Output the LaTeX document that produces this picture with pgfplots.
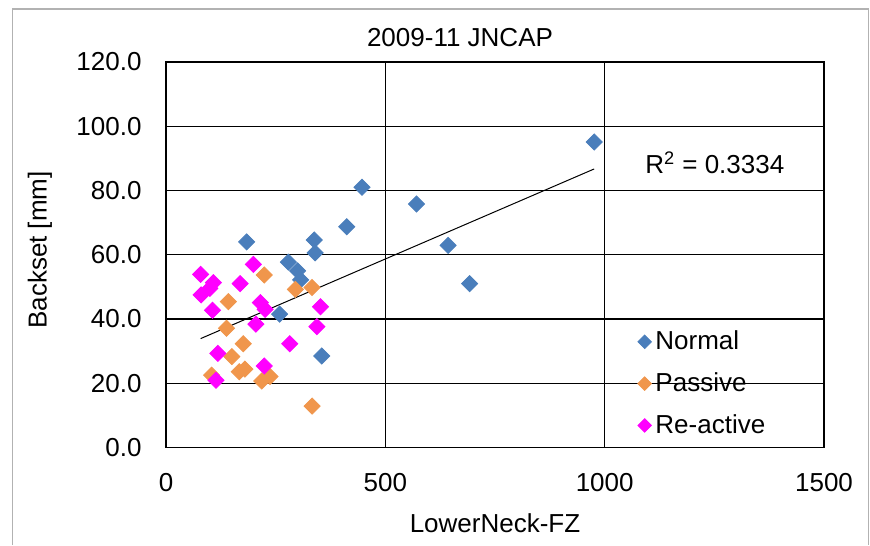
\documentclass[border=0pt]{standalone}
\usepackage{fontspec}
\setmainfont{Liberation Sans}
\usepackage{pgfplots}
\pgfplotsset{compat=1.18}
\definecolor{cnormal}{HTML}{4A7EBB}
\definecolor{cpassive}{HTML}{F0964C}
\definecolor{creactive}{HTML}{FF00FF}
\newcommand{\lbl}{\fontsize{13}{15}\selectfont}
\begin{document}
\begin{tikzpicture}
\useasboundingbox (0,0) rectangle (435pt,272.5pt);
\draw[gray!60, line width=0.8pt] (6.25pt,0pt) -- (6.25pt,268pt) -- (434.3pt,268pt) -- (434.3pt,0pt);
\begin{axis}[
  at={(83pt,48.75pt)}, anchor=south west,
  scale only axis, width=329pt, height=192.75pt,
  xmin=0, xmax=1500, ymin=0, ymax=120,
  xtick={0,500,1000,1500}, xticklabels={0,500,1000,1500},
  ytick={0,20,40,60,80,100,120},
  yticklabels={0.0,20.0,40.0,60.0,80.0,100.0,120.0},
  /pgf/number format/assume math mode=true,
  tick label style={font=\lbl},
  xticklabel style={yshift=-9.5pt},
  yticklabel style={xshift=-8.7pt},
  major tick length=0pt,
  grid=major,
  major grid style={black, line width=0.6pt},
  axis line style={black, line width=0.6pt},
  every axis plot/.append style={only marks, mark=square*, mark size=2.85pt},
  legend image code/.code={\draw[#1, mark size=2.4pt] plot coordinates {(0.13cm,0cm)};},
  legend style={at={(0.7165,0.314)}, anchor=north west, draw=none, fill=none,
     font=\lbl, row sep=6pt, inner sep=0pt},
  legend cell align=left,
]
\addplot[color=cnormal, mark options={rotate=45, draw=none, fill=cnormal}] coordinates {
(184,64.0) (279,57.7) (300,55.0) (307,52.2) (259,41.5) (338,64.6) (340,60.6)
(412,68.7) (447,81.0) (571,75.8) (643,62.9) (692,51.0) (976,95.1) (355,28.5)};
\addlegendentry{Normal}
\addplot[color=cpassive, mark options={rotate=45, draw=none, fill=cpassive}] coordinates {
(224,53.7) (142,45.4) (295,49.2) (333,49.8) (138,37.1) (176,32.3) (150,28.3)
(167,23.6) (180,24.4) (104,22.5) (218,20.7) (237,22.1) (333,12.9)};
\addlegendentry{Passive}
\addplot[color=creactive, mark options={rotate=45, draw=none, fill=creactive}] coordinates {
(79,53.9) (108,51.3) (100,49.5) (80,47.5) (199,57.0) (169,51.0) (106,42.7)
(215,45.1) (226,43.0) (205,38.4) (352,43.8) (344,37.6) (282,32.3) (118,29.3)
(224,25.4) (114,20.9)};
\addlegendentry{Re-active}
\addplot[black, line width=0.5pt, no marks, sharp plot, forget plot] coordinates {(79,33.9) (976,86.7)};
\node[font=\lbl] at (axis cs:1251,88.6) {R\textsuperscript{2} = 0.3334};
\end{axis}
\node[font=\lbl] at (230pt,253.5pt) {2009-11 JNCAP};
\node[font=\lbl, rotate=90] at (20pt,147.5pt) {Backset [mm]};
\node[font=\lbl] at (247.5pt,11pt) {LowerNeck-FZ};
\end{tikzpicture}
\end{document}
